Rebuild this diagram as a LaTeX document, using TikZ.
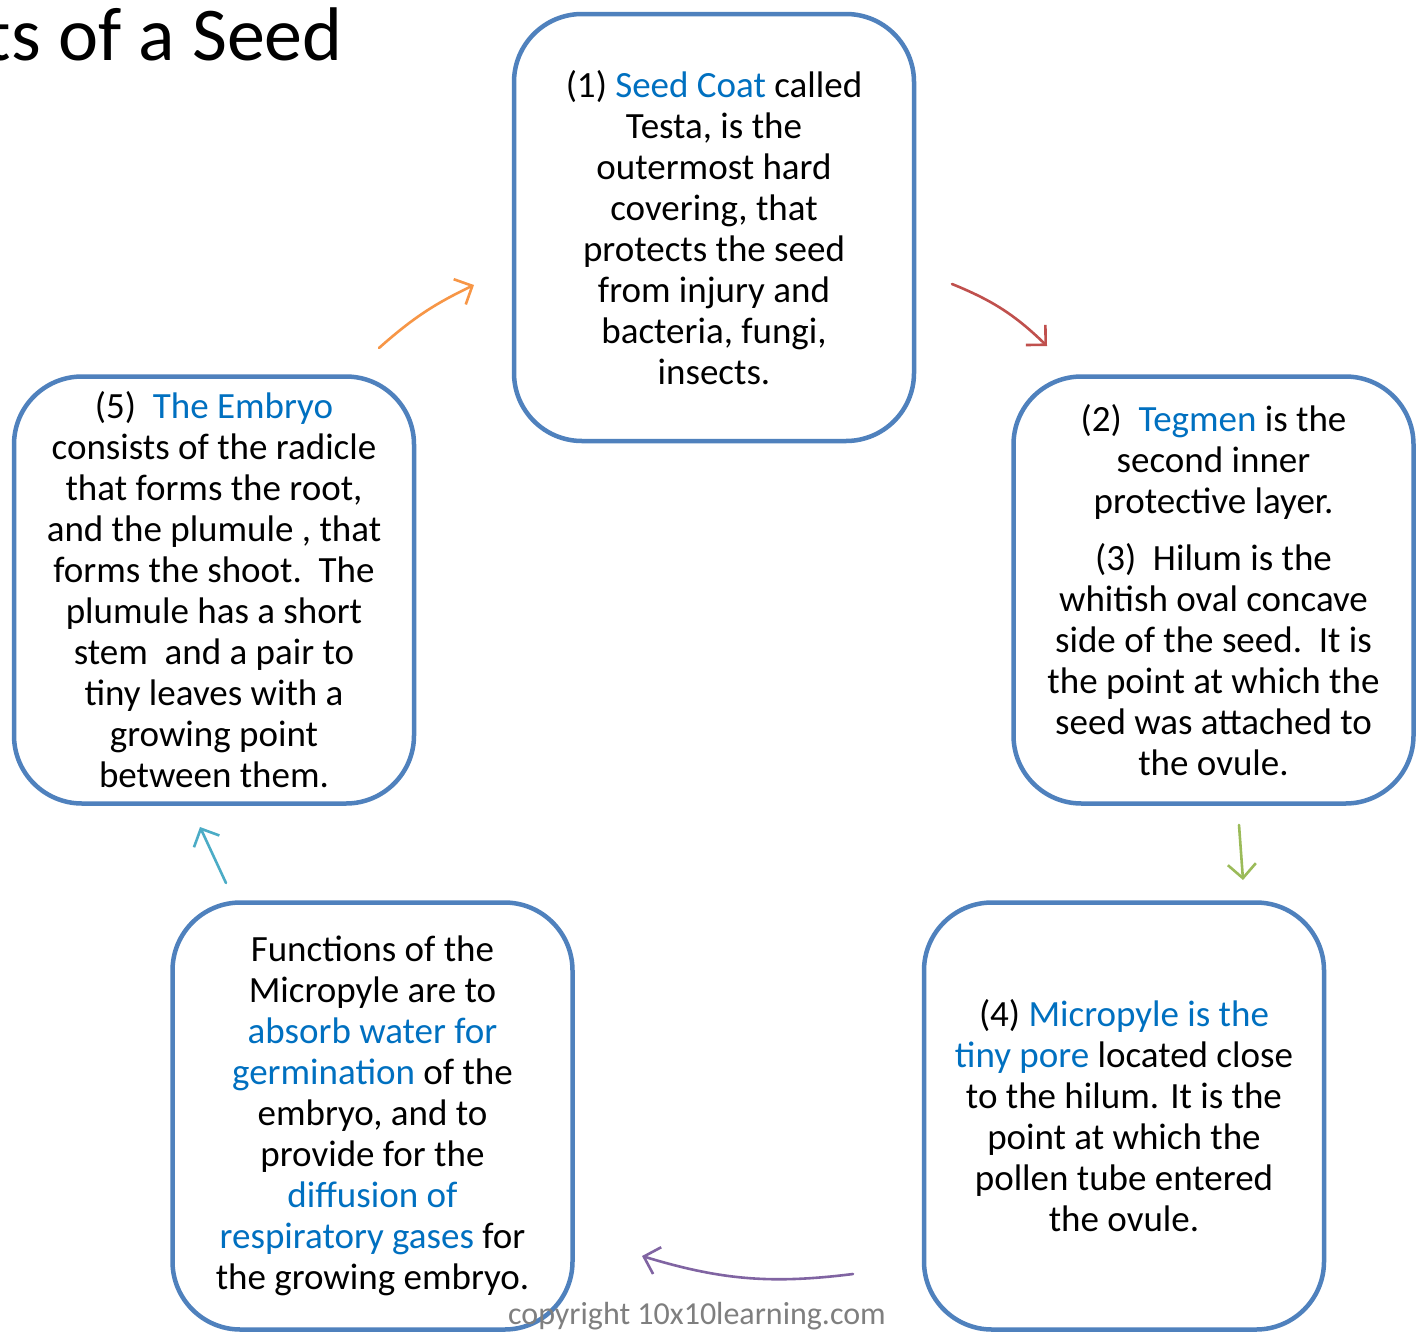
\documentclass[tikz,border=0pt]{standalone}
\usepackage{fontspec}
\setmainfont{Carlito}
\usetikzlibrary{arrows.meta}
\definecolor{boxblue}{HTML}{4F81BD}
\definecolor{txtblue}{HTML}{0070C0}
\definecolor{aorange}{HTML}{F79646}
\definecolor{ared}{HTML}{C0504D}
\definecolor{agreen}{HTML}{9BBB59}
\definecolor{apurple}{HTML}{8064A2}
\definecolor{acyan}{HTML}{4BACC6}
\definecolor{cgray}{HTML}{7F7F7F}
\newcommand{\hl}[1]{\textcolor{txtblue}{#1}}
\begin{document}
\begin{tikzpicture}[x=1pt,y=-1pt,
  box/.style={draw=boxblue, line width=4.5pt, rounded corners=68pt,
    minimum width=400pt, minimum height=427pt, inner sep=0pt, align=center,
    font=\fontsize{37}{41}\selectfont},
  conn/.style={line width=2.6pt, line cap=round,
    -{Straight Barb[length=14pt,width=28pt,line width=2.6pt]}}]
\useasboundingbox (0,0) rectangle (1418,1333);
\fill[white] (0,0) rectangle (1418,1333);

\node[anchor=base east, inner sep=0pt, font=\fontsize{76}{90}\selectfont] (title) at (343,60) {ts of a Seed};

\node[box] (b1) at (714,227.5) {(1) \hl{Seed Coat} called\\ Testa, is the\\ outermost hard\\ covering, that\\ protects the seed\\ from injury and\\ bacteria, fungi,\\ insects.};

\node[box] (b2) at (1213.5,590) {(2)\ \ \hl{Tegmen} is the\\ second inner\\ protective layer.\\[16pt] (3)\ \ Hilum is the\\ whitish oval concave\\ side of the seed.\ \ It is\\ the point at which the\\ seed was attached to\\ the ovule.};

\node[box] (b5) at (214,590) {(5)\ \ \hl{The Embryo}\\ consists of the radicle\\ that forms the root,\\ and the plumule , that\\ forms the shoot.\ \ The\\ plumule has a short\\ stem\ \ and a pair to\\ tiny leaves with a\\ growing point\\ between them.};

\node[box] (b4) at (1124,1116) {(4) \hl{Micropyle is the}\\ \hl{tiny pore} located close\\ to the hilum. It is the\\ point at which the\\ pollen tube entered\\ the ovule.};

\node[box] (bf) at (372.5,1116) {Functions of the\\ Micropyle are to\\ \hl{absorb water for}\\ \hl{germination} of the\\ embryo, and to\\ provide for the\\ \hl{diffusion of}\\ \hl{respiratory gases} for\\ the growing embryo.};

\node[font=\fontsize{32}{36}\selectfont, text=cgray, inner sep=0pt] (copy) at (697,1316) {copyright 10x10learning.com};

\coordinate (o1) at (379,348); \coordinate (o2) at (474,285);
\coordinate (r1) at (952,284); \coordinate (r2) at (1047,346);
\coordinate (g1) at (1239,825); \coordinate (g2) at (1243,880);
\coordinate (p1) at (853,1274); \coordinate (p2) at (642,1256);
\coordinate (c1) at (226,883); \coordinate (c2) at (200,827);

\draw[conn, aorange] (o1) to[bend left=8] (o2);
\draw[conn, ared] (r1) to[bend left=11] (r2);
\draw[conn, agreen] (g1) -- (g2);
\draw[conn, apurple] (p1) to[bend left=12] (p2);
\draw[conn, acyan] (c1) -- (c2);
\end{tikzpicture}
\end{document}
